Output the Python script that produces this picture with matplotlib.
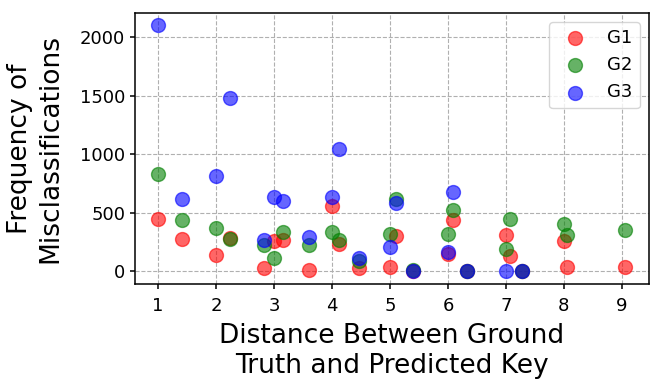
import numpy as np
import matplotlib
matplotlib.use("Agg")
import matplotlib.pyplot as plt

# distances (x) and counts per group
dist = [1.0, 1.41, 2.0, 2.24, 2.83, 3.0, 3.16, 3.61, 4.0, 4.12, 4.47, 5.0, 5.1,
        5.39, 6.0, 6.08, 6.32, 7.0, 7.07, 7.28, 8.0, 8.06, 9.06]
g1 = [444, 274, 140, 288, 26, 260, 268, 11, 558, 231, 32, 37, 302,
      0, 151, 436, 0, 310, 131, 0, 260, 40, 37]
g2 = [829, 436, 367, 274, 222, 117, 336, 222, 336, 268, 88, 322, 620,
      17, 322, 524, 5, 194, 444, 0, 402, 310, 350]

dist_g3 = [1.0, 1.41, 2.0, 2.24, 2.83, 3.0, 3.16, 3.61, 4.0, 4.12, 4.47, 5.0, 5.1,
           5.39, 6.0, 6.08, 6.32, 7.0, 7.28]
g3 = [2100, 615, 815, 1480, 265, 638, 600, 293, 638, 1043, 117, 208, 580,
      0, 168, 678, 0, 0, 0]

fig = plt.figure(figsize=(6.64, 3.92), dpi=100)
ax = fig.add_axes([0.203, 0.276, 0.774, 0.691])

ax.scatter(dist, g1, color="red", alpha=0.6, s=100, label="G1", zorder=3)
ax.scatter(dist, g2, color="green", alpha=0.6, s=100, label="G2", zorder=3)
ax.scatter(dist_g3, g3, color="blue", alpha=0.6, s=100, label="G3", zorder=3)

ax.set_xticks(range(1, 10))
ax.set_yticks([0, 500, 1000, 1500, 2000])
ax.tick_params(labelsize=13, width=1.1)
ax.tick_params(axis="x", pad=6)
for sp in ax.spines.values():
    sp.set_linewidth(1.1)
ax.grid(True, linestyle="--", color="#b0b0b0", linewidth=0.8)
ax.set_xlabel("Distance Between Ground\nTruth and Predicted Key", fontsize=19, labelpad=5.5)
ax.set_ylabel("Frequency of\nMisclassifications", fontsize=19, labelpad=12)
ax.legend(loc="upper right", fontsize=13)

plt.savefig("out.png")
